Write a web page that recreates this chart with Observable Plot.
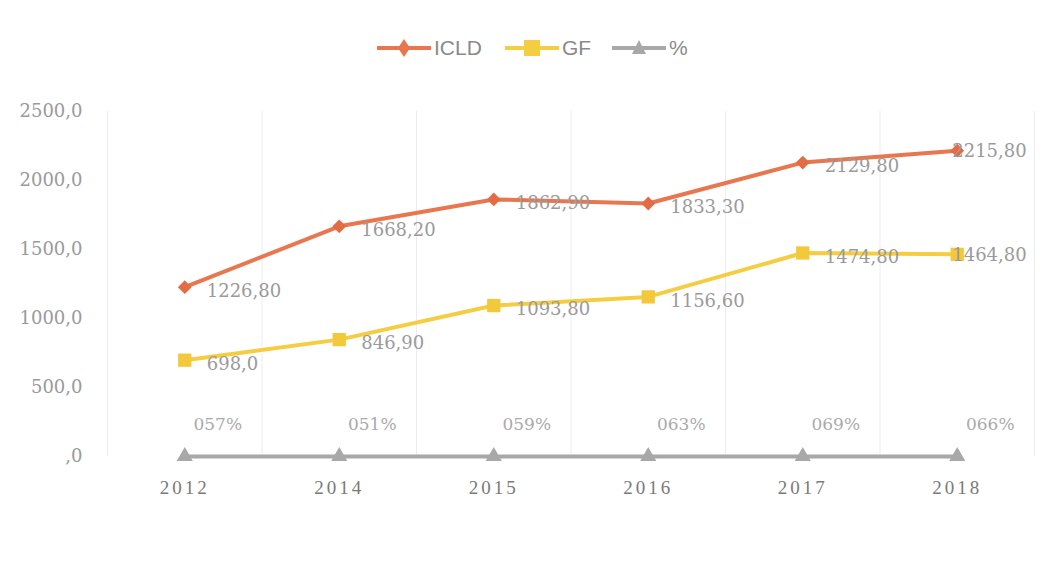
<!DOCTYPE html>
<html>
<head>
<meta charset="utf-8">
<script src="https://cdn.jsdelivr.net/npm/d3@7"></script>
<script src="https://cdn.jsdelivr.net/npm/@observablehq/plot@0.6"></script>
<style>
  html, body { margin: 0; padding: 0; background: #fff; }
  #wrap { width: 1043px; height: 573px; position: relative; overflow: hidden; background: #fff; }
  #legend { position: relative; width: 1043px; height: 90px; }
  .li { position: absolute; top: 33px; height: 30px; display: flex; align-items: center;
        font-family: "Liberation Sans Narrow", "Liberation Sans", sans-serif; font-size: 21px; color: #8a8a8a; }
  .li svg { margin-right: 3px; }
  g[aria-label="x-axis tick label"] { letter-spacing: 3px; fill: #7a7a7a; font-family: "Liberation Serif", serif; font-size: 19px; }
  g[aria-label="y-axis tick label"] { fill: #9a9a9a; font-family: "DejaVu Serif", serif; font-size: 18px; }
</style>
</head>
<body>
<div id="wrap">
  <div id="legend"></div>
  <div id="chart"></div>
</div>
<script>
// ---- data ----
const years = ["2012", "2014", "2015", "2016", "2017", "2018"];
const icld = [1226.8, 1668.2, 1862.9, 1833.3, 2129.8, 2215.8];
const gf = [698.0, 846.9, 1093.8, 1156.6, 1474.8, 1464.8];
const pct = [0.57, 0.51, 0.59, 0.63, 0.69, 0.66];
const icldLabels = ["1226,80", "1668,20", "1862,90", "1833,30", "2129,80", "2215,80"];
const gfLabels = ["698,0", "846,90", "1093,80", "1156,60", "1474,80", "1464,80"];
const pctLabels = ["057%", "051%", "059%", "063%", "069%", "066%"];
const yTicks = [0, 500, 1000, 1500, 2000, 2500];
const yTickLabels = [",0", "500,0", "1000,0", "1500,0", "2000,0", "2500,0"];
const seriesNames = ["ICLD", "GF", "%"];
const colors = { ICLD: "#E8764F", GF: "#F5CD43", "%": "#A8A8A8" };

// ---- table ----
const rows = [];
years.forEach((y, i) => {
  rows.push({ series: "ICLD", i, value: icld[i], label: icldLabels[i] });
  rows.push({ series: "GF", i, value: gf[i], label: gfLabels[i] });
  rows.push({ series: "%", i, value: pct[i], label: pctLabels[i] });
});
const last = years.length - 1;
const byS = s => rows.filter(d => d.series === s);

// ---- legend ----
const legend = document.getElementById("legend");
const legendPos = { ICLD: 377, GF: 505, "%": 612 };
const markerSvg = {
  ICLD: c => `<path d="M27,6 L33,15 L27,24 L21,15 Z" fill="${c}"/>`,
  GF: c => `<rect x="19" y="7" width="16" height="16" fill="${c}"/>`,
  "%": c => `<path d="M27,7 L34,21 L20,21 Z" fill="${c}"/>`
};
seriesNames.forEach(s => {
  const c = colors[s];
  const el = document.createElement("div");
  el.className = "li";
  el.style.left = legendPos[s] + "px";
  el.innerHTML = `<svg width="54" height="30"><line x1="0" y1="15" x2="54" y2="15" stroke="${c}" stroke-width="4"/>${markerSvg[s](c)}</svg>${s}`;
  legend.appendChild(el);
});

// ---- chart ----
const chart = Plot.plot({
  width: 1043,
  height: 483,
  marginTop: 21,
  marginBottom: 117,
  marginLeft: 107,
  marginRight: 9,
  style: { background: "transparent", color: "#999", fontFamily: "DejaVu Serif, serif", fontSize: "18px" },
  x: { domain: [-0.5, years.length - 0.5], label: null },
  y: { domain: [0, 2500], label: null },
  marks: [
    Plot.ruleX(d3.range(-0.5, years.length, 1), { stroke: "#ececec", strokeWidth: 1 }),
    Plot.axisY({ ticks: yTicks, tickFormat: d => yTickLabels[yTicks.indexOf(d)], tickSize: 0, tickPadding: 25, label: null }),
    Plot.axisX({ ticks: d3.range(years.length), tickFormat: i => years[i], tickSize: 0, tickPadding: 24, label: null }),
    // lines
    Plot.line(byS("%"), { x: "i", y: "value", stroke: colors["%"], strokeWidth: 4 }),
    Plot.line(byS("GF"), { x: "i", y: "value", stroke: colors.GF, strokeWidth: 4 }),
    Plot.line(byS("ICLD"), { x: "i", y: "value", stroke: colors.ICLD, strokeWidth: 4 }),
    // markers
    Plot.dot(byS("%"), { x: "i", y: "value", symbol: "triangle", r: 6, fill: colors["%"] }),
    Plot.dot(byS("GF"), { x: "i", y: "value", symbol: "square", r: 7.5, fill: "#F3C93C" }),
    Plot.dot(byS("ICLD"), { x: "i", y: "value", symbol: "square", rotate: 45, r: 5.5, fill: "#E36C45" }),
    // labels
    Plot.text(rows.filter(d => d.series !== "%" && d.i !== last), {
      x: "i", y: "value", text: "label", textAnchor: "start", dx: 22, dy: 4,
      fill: "#9a9a9a", fontFamily: "DejaVu Serif, serif", fontSize: 18
    }),
    Plot.text(rows.filter(d => d.series !== "%" && d.i === last), {
      x: "i", y: "value", text: "label", textAnchor: "start", dx: -5, dy: 1,
      fill: "#9a9a9a", fontFamily: "DejaVu Serif, serif", fontSize: 18
    }),
    Plot.text(byS("%"), {
      x: "i", y: "value", text: "label", textAnchor: "middle", dx: 33, dy: -32,
      fill: "#aaaaaa", fontFamily: "DejaVu Serif, serif", fontSize: 17
    })
  ]
});
document.getElementById("chart").appendChild(chart);
</script>
</body>
</html>
